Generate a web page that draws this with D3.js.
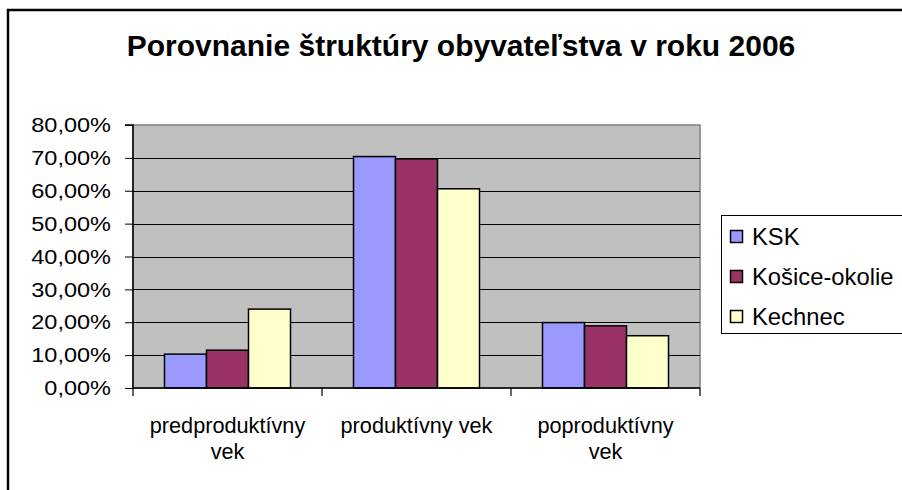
<!DOCTYPE html>
<html>
<head>
<meta charset="utf-8">
<script src="https://cdn.jsdelivr.net/npm/d3@7"></script>
<style>
  html, body { margin: 0; padding: 0; background: #fff; }
  svg { display: block; font-family: "Liberation Sans", Arial, sans-serif; }
</style>
</head>
<body>
<svg id="chart" width="902" height="490"></svg>
<script>
const titleText = "Porovnanie štruktúry obyvateľstva v roku 2006";
const categories = [["predproduktívny", "vek"], ["produktívny vek"], ["poproduktívny", "vek"]];
const seriesNames = ["KSK", "Košice-okolie", "Kechnec"];
const seriesColors = ["#9999FF", "#993366", "#FFFFCC"];
const valuesKSK = [0.103, 0.704, 0.199];
const valuesKosice = [0.115, 0.697, 0.189];
const valuesKechnec = [0.240, 0.606, 0.159];
const yTicks = [0, 0.1, 0.2, 0.3, 0.4, 0.5, 0.6, 0.7, 0.8];

const series = [valuesKSK, valuesKosice, valuesKechnec];
const svg = d3.select("#chart");

// outer chart border (extends past right/bottom edge)
svg.append("rect").attr("x", 8).attr("y", 10).attr("width", 1000).attr("height", 600)
  .attr("fill", "#fff").attr("stroke", "#000").attr("stroke-width", 2.5);

// title
svg.append("text").attr("x", 461).attr("y", 56).attr("text-anchor", "middle")
  .attr("font-size", 30).attr("font-weight", "bold").attr("fill", "#000").text(titleText);

const plot = { left: 133, right: 700, top: 125, bottom: 388 };
const x = d3.scaleBand().domain(d3.range(categories.length)).range([plot.left, plot.right]).paddingInner(0).paddingOuter(0);
const y = d3.scaleLinear().domain([0, 0.8]).range([plot.bottom, plot.top]);

svg.append("rect").attr("x", plot.left).attr("y", plot.top)
  .attr("width", plot.right - plot.left).attr("height", plot.bottom - plot.top)
  .attr("fill", "#C0C0C0").attr("stroke", "#808080").attr("stroke-width", 1.5);

// gridlines
svg.append("g").selectAll("line").data(yTicks.filter(d => d > 0 && d < 0.8)).join("line")
  .attr("x1", plot.left).attr("x2", plot.right)
  .attr("y1", d => Math.round(y(d)) + 0.5).attr("y2", d => Math.round(y(d)) + 0.5)
  .attr("stroke", "#000").attr("stroke-width", 1);

// bars (gap width 150%)
const inner = d3.scaleBand().domain(d3.range(series.length))
  .range([0, x.bandwidth()]).paddingOuter(0.75).paddingInner(0);
series.forEach((vals, si) => {
  svg.append("g").selectAll("rect").data(vals).join("rect")
    .attr("x", (d, i) => x(i) + inner(si))
    .attr("y", d => y(d))
    .attr("width", inner.bandwidth())
    .attr("height", d => y(0) - y(d))
    .attr("fill", seriesColors[si]).attr("stroke", "#000").attr("stroke-width", 1.5);
});

// y axis
const yLabelScaleX = 1.12;
const yAxis = d3.axisLeft(y).tickValues(yTicks).tickSize(8).tickPadding(14)
  .tickFormat(d => d3.format(".2f")(d * 100).replace(".", ",") + "%");
const gy = svg.append("g").attr("transform", `translate(${plot.left},0)`).call(yAxis);
gy.select(".domain").attr("stroke", "#000").attr("stroke-width", 1.5).attr("d", `M-8,${plot.top}H0V${plot.bottom}`);
gy.selectAll(".tick line").attr("stroke", "#000");
gy.selectAll(".tick text").attr("font-size", 21).attr("fill", "#000")
  .attr("font-family", "'Liberation Sans', Arial, sans-serif")
  .attr("x", -22 / yLabelScaleX)
  .attr("transform", `scale(${yLabelScaleX},1)`);

// x axis
svg.append("line").attr("x1", plot.left).attr("x2", plot.right)
  .attr("y1", plot.bottom).attr("y2", plot.bottom).attr("stroke", "#000").attr("stroke-width", 1.5);
const xTickPos = d3.range(categories.length + 1).map(i => plot.left + i * x.step());
svg.append("g").selectAll("line").data(xTickPos).join("line")
  .attr("x1", d => d).attr("x2", d => d).attr("y1", plot.bottom).attr("y2", plot.bottom + 8)
  .attr("stroke", "#000").attr("stroke-width", 1.2);
const xl = svg.append("g").selectAll("text").data(categories).join("text")
  .attr("x", (d, i) => x(i) + x.bandwidth() / 2).attr("y", 433)
  .attr("text-anchor", "middle").attr("font-size", 21.7).attr("fill", "#000");
xl.each(function(lines) {
  const t = d3.select(this);
  lines.forEach((ln, k) => t.append("tspan").attr("x", t.attr("x")).attr("dy", k === 0 ? 0 : 26).text(ln));
});

// legend
const lg = svg.append("g");
lg.append("rect").attr("x", 721.5).attr("y", 215.5).attr("width", 200).attr("height", 118)
  .attr("fill", "#fff").attr("stroke", "#000").attr("stroke-width", 1);
seriesNames.forEach((name, i) => {
  const cy = 236.5 + i * 40;
  lg.append("rect").attr("x", 730.5).attr("y", cy - 6).attr("width", 12).attr("height", 12)
    .attr("fill", seriesColors[i]).attr("stroke", "#000").attr("stroke-width", 1.5);
  lg.append("text").attr("x", 752).attr("y", cy + 8).attr("font-size", 23.8).attr("fill", "#000").text(name);
});
</script>
</body>
</html>
